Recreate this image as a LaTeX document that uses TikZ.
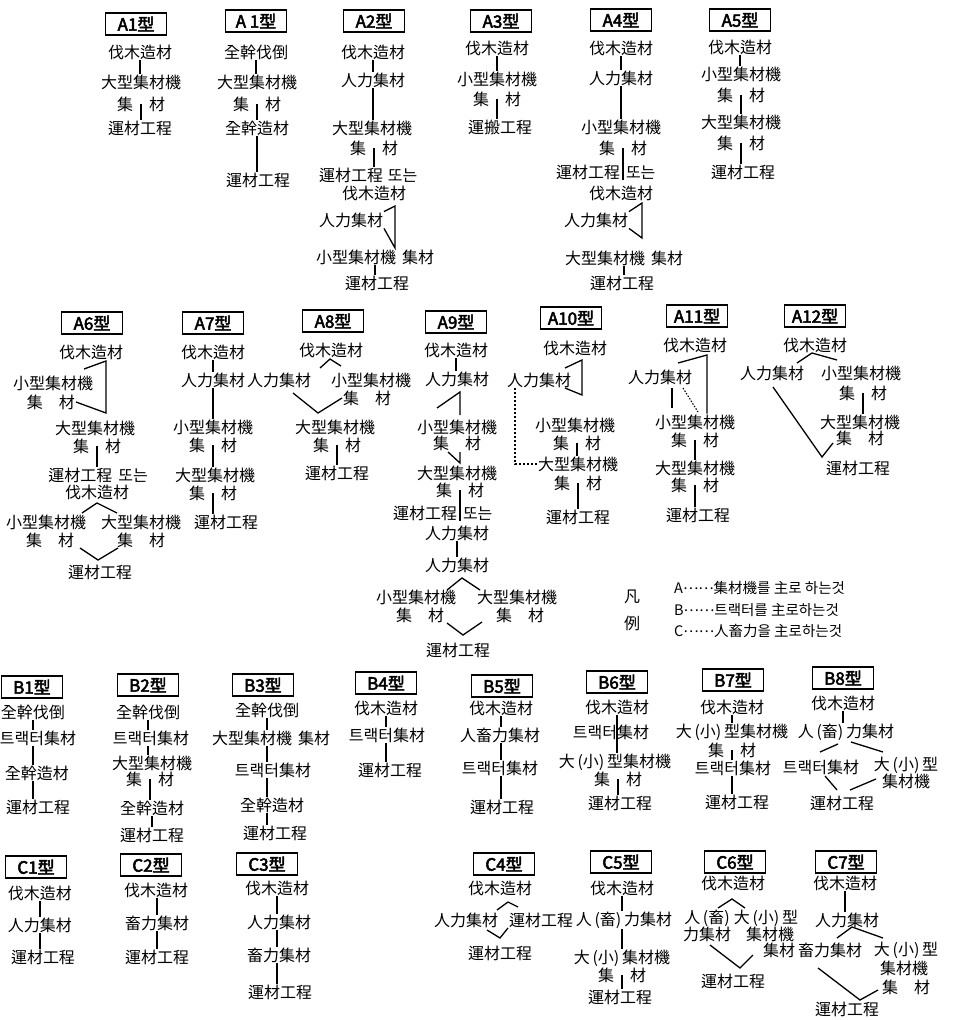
\documentclass[tikz,border=0pt]{standalone}
\usepackage{fontspec}
\newfontfamily\cjk{Noto Sans CJK KR}
\newfontfamily\cjkb[FakeBold=3]{Noto Sans CJK KR}
\tikzset{
 lbl/.style={font=\cjk\fontsize{16}{16}\selectfont, inner sep=1pt, outer sep=0pt},
 ttl/.style={draw, line width=1.2pt, font=\cjkb\fontsize{17}{17}\selectfont, minimum width=61pt, minimum height=22pt, inner sep=1pt},
 conn/.style={line width=1.3pt},
 dconn/.style={line width=1.1pt, dash pattern=on 2pt off 2pt},
 lgd/.style={font=\cjk\fontsize{14.5}{15}\selectfont, inner sep=1pt, anchor=west}
}
\newcommand\vconn[2]{\draw[conn] (#1) -- (#1 |- #2.north);}
\newcommand\lgdots{\raisebox{0.3em}{……}}
\begin{document}
\begin{tikzpicture}[x=1pt,y=-1pt]
\useasboundingbox (0,0) rectangle (977,1020);
% ---------- A1
\node[ttl] (a1t) at (136,24) {A1型};
\node[lbl] (a1a) at (140,52) {伐木造材};
\node[lbl] (a1b) at (141,82) {大型集材機};
\node[lbl] (a1c) at (141,104) {集　材};
\node[lbl] (a1d) at (140,128) {運材工程};
\vconn{a1a.south}{a1b}
\vconn{a1c.center}{a1d}
% ---------- A1'
\node[ttl] (a1xt) at (256,21) {A 1型};
\node[lbl] (a1xa) at (256,52) {全幹伐倒};
\node[lbl] (a1xb) at (257,82) {大型集材機};
\node[lbl] (a1xc) at (257,104) {集　材};
\node[lbl] (a1xd) at (257,128) {全幹造材};
\node[lbl] (a1xe) at (258,180) {運材工程};
\vconn{a1xa.south}{a1xb}
\vconn{a1xc.center}{a1xd}
\vconn{a1xd.south}{a1xe}
% ---------- A2
\node[ttl] (a2t) at (374,21) {A2型};
\node[lbl] (a2a) at (373,52) {伐木造材};
\node[lbl] (a2b) at (373,80) {人力集材};
\node[lbl] (a2c) at (372,128) {大型集材機};
\node[lbl] (a2d) at (374,148) {集　材};
\node[lbl,anchor=west] (a2e) at (318,175) {運材工程\hspace{5pt}또는};
\node[lbl] (a2f) at (374,193) {伐木造材};
\node[lbl] (a2g) at (351,220) {人力集材};
\node[lbl] (a2h) at (375,257) {小型集材機\hspace{6pt}集材};
\node[lbl] (a2i) at (377,283) {運材工程};
\coordinate (a2v1) at (395,206);
\coordinate (a2v2) at (395,248);
\vconn{a2a.south}{a2b}
\vconn{a2b.south}{a2c}
\vconn{a2d.center}{a2e}
\draw[conn] (a2g.north east) -- (a2v1) -- (a2v2) -- (a2g.south east);
\vconn{a2h.south}{a2i}
% ---------- A3
\node[ttl] (a3t) at (501,21) {A3型};
\node[lbl] (a3a) at (497,48) {伐木造材};
\node[lbl] (a3b) at (497,79) {小型集材機};
\node[lbl] (a3c) at (497,99) {集　材};
\node[lbl] (a3d) at (500,127) {運搬工程};
\vconn{a3a.south}{a3b}
\vconn{a3c.center}{a3d}
% ---------- A4
\node[ttl] (a4t) at (621,20) {A4型};
\node[lbl] (a4a) at (621,48) {伐木造材};
\node[lbl] (a4b) at (621,78) {人力集材};
\node[lbl] (a4c) at (621,127) {小型集材機};
\node[lbl] (a4d) at (623,148) {集　材};
\node[lbl,anchor=west] (a4e) at (555,172) {運材工程\hspace{6pt}또는};
\node[lbl] (a4f) at (621,193) {伐木造材};
\node[lbl] (a4g) at (596,220) {人力集材};
\node[lbl] (a4h) at (624,258) {大型集材機\hspace{6pt}集材};
\node[lbl] (a4i) at (622,283) {運材工程};
\coordinate (a4v1) at (642,203);
\coordinate (a4v2) at (642,238);
\vconn{a4a.south}{a4b}
\vconn{a4b.south}{a4c}
\draw[conn] (a4d.center) -- (a4d.center |- a4e.south);
\draw[conn] (a4g.north east) -- (a4v1) -- (a4v2) -- (a4g.south east);
\vconn{a4h.south}{a4i}
% ---------- A5
\node[ttl] (a5t) at (740,20) {A5型};
\node[lbl] (a5a) at (740,47) {伐木造材};
\node[lbl] (a5b) at (741,74) {小型集材機};
\node[lbl] (a5c) at (741,95) {集　材};
\node[lbl] (a5d) at (741,122) {大型集材機};
\node[lbl] (a5e) at (741,143) {集　材};
\node[lbl] (a5f) at (743,172) {運材工程};
\vconn{a5a.south}{a5b}
\vconn{a5c.center}{a5d}
\vconn{a5e.center}{a5f}
% ---------- A6
\node[ttl] (a6t) at (92,323) {A6型};
\node[lbl] (a6a) at (91,352) {伐木造材};
\node[lbl] (a6b) at (53,383) {小型集材機};
\node[lbl] (a6c) at (51,402) {集　材};
\node[lbl] (a6d) at (95,428) {大型集材機};
\node[lbl] (a6e) at (97,446) {集　材};
\node[lbl] (a6f) at (98,475) {運材工程\hspace{6pt}또는};
\node[lbl] (a6g) at (97,492) {伐木造材};
\node[lbl] (a6h) at (46,522) {小型集材機};
\node[lbl] (a6i) at (141,522) {大型集材機};
\node[lbl] (a6j) at (50,540) {集　材};
\node[lbl] (a6k) at (141,540) {集　材};
\node[lbl] (a6l) at (100,572) {運材工程};
\coordinate (a6p1) at (84,369);
\coordinate (a6v1) at (106,361);
\coordinate (a6v2) at (106,413);
\coordinate (a6p3) at (82,513);
\coordinate (a6v3) at (97,503);
\coordinate (a6p4) at (117,513);
\coordinate (a6p5) at (80,548);
\coordinate (a6v4) at (98,560);
\coordinate (a6p6) at (118,548);
\draw[conn] (a6p1) -- (a6v1) -- (a6v2) -- (a6c.east);
\vconn{a6e.center}{a6f}
\draw[conn] (a6p3) -- (a6v3) -- (a6p4);
\draw[conn] (a6p5) -- (a6v4) -- (a6p6);
% ---------- A7
\node[ttl] (a7t) at (213,323) {A7型};
\node[lbl] (a7a) at (213,352) {伐木造材};
\node[lbl] (a7b) at (213,380) {人力集材};
\node[lbl] (a7c) at (213,427) {小型集材機};
\node[lbl] (a7d) at (213,445) {集　材};
\node[lbl] (a7e) at (215,475) {大型集材機};
\node[lbl] (a7f) at (213,493) {集　材};
\node[lbl] (a7g) at (226,522) {運材工程};
\vconn{a7a.south}{a7b}
\vconn{a7b.south}{a7c}
\vconn{a7d.center}{a7e}
\vconn{a7f.center}{a7g}
% ---------- A8
\node[ttl] (a8t) at (333,321) {A8型};
\node[lbl] (a8a) at (331,350) {伐木造材};
\node[lbl] (a8b) at (279,380) {人力集材};
\node[lbl] (a8c) at (371,380) {小型集材機};
\node[lbl] (a8d) at (367,398) {集　材};
\node[lbl] (a8e) at (335,427) {大型集材機};
\node[lbl] (a8f) at (337,445) {集　材};
\node[lbl] (a8g) at (337,473) {運材工程};
\coordinate (a8p1) at (320,368);
\coordinate (a8v1) at (330,359);
\coordinate (a8p2) at (341,366);
\coordinate (a8p3) at (293,393);
\coordinate (a8v2) at (318,413);
\coordinate (a8p4) at (342,398);
\draw[conn] (a8p1) -- (a8v1) -- (a8p2);
\draw[conn] (a8p3) -- (a8v2) -- (a8p4);
\vconn{a8f.center}{a8g}
% ---------- A9
\node[ttl] (a9t) at (456,322) {A9型};
\node[lbl] (a9a) at (456,350) {伐木造材};
\node[lbl] (a9b) at (457,379) {人力集材};
\node[lbl] (a9c) at (457,427) {小型集材機};
\node[lbl] (a9d) at (457,443) {集　材};
\node[lbl] (a9e) at (457,473) {大型集材機};
\node[lbl] (a9f) at (460,490) {集　材};
\node[lbl,anchor=west] (a9g) at (392,513) {運材工程\hspace{6pt}또는};
\node[lbl] (a9h) at (457,533) {人力集材};
\node[lbl] (a9i) at (457,565) {人力集材};
\node[lbl] (a9j) at (416,597) {小型集材機};
\node[lbl] (a9k) at (517,597) {大型集材機};
\node[lbl] (a9l) at (420,615) {集　材};
\node[lbl] (a9m) at (520,615) {集　材};
\node[lbl] (a9n) at (458,650) {運材工程};
\coordinate (a9v1) at (460,392);
\coordinate (a9p1) at (437,408);
\coordinate (a9v2) at (460,415);
\coordinate (a9p2) at (448,452);
\coordinate (a9v3) at (460,463);
\coordinate (a9v4) at (460,452);
\coordinate (a9p3) at (447,590);
\coordinate (a9v5) at (462,578);
\coordinate (a9p4) at (480,590);
\coordinate (a9p5) at (447,623);
\coordinate (a9v6) at (463,635);
\coordinate (a9p6) at (482,622);
\vconn{a9a.south}{a9b}
\draw[conn] (a9p1) -- (a9v1) -- (a9v2);
\draw[conn] (a9p2) -- (a9v3) -- (a9v4);
\draw[conn] (a9f.center) -- (a9f.center |- a9g.south);
\vconn{a9h.south}{a9i}
\draw[conn] (a9p3) -- (a9v5) -- (a9p4);
\draw[conn] (a9p5) -- (a9v6) -- (a9p6);
% ---------- A10
\node[ttl] (a10t) at (571,318) {A10型};
\node[lbl] (a10a) at (575,348) {伐木造材};
\node[lbl] (a10b) at (539,380) {人力集材};
\node[lbl] (a10c) at (575,425) {小型集材機};
\node[lbl] (a10d) at (577,443) {集　材};
\node[lbl] (a10e) at (578,464) {大型集材機};
\node[lbl] (a10f) at (578,483) {集　材};
\node[lbl] (a10g) at (578,517) {運材工程};
\coordinate (a10p1) at (565,368);
\coordinate (a10v1) at (582,360);
\coordinate (a10v2) at (582,395);
\coordinate (a10p2) at (565,388);
\coordinate (a10p3) at (515,388);
\draw[conn] (a10p1) -- (a10v1) -- (a10v2) -- (a10p2);
\draw[dconn] (a10p3) |- (a10e.west);
\vconn{a10d.center}{a10e}
\vconn{a10f.center}{a10g}
% ---------- A11
\node[ttl] (a11t) at (697,316) {A11型};
\node[lbl] (a11a) at (695,345) {伐木造材};
\node[lbl] (a11b) at (660,377) {人力集材};
\node[lbl] (a11c) at (695,422) {小型集材機};
\node[lbl] (a11d) at (695,440) {集　材};
\node[lbl] (a11e) at (695,468) {大型集材機};
\node[lbl] (a11f) at (695,485) {集　材};
\node[lbl] (a11g) at (698,515) {運材工程};
\coordinate (a11p1) at (678,363);
\coordinate (a11v1) at (707,355);
\coordinate (a11p2) at (672,388);
\coordinate (a11p3) at (672,408);
\coordinate (a11p4) at (683,388);
\coordinate (a11p5) at (698,412);
\draw[conn] (a11p1) -- (a11v1) -- (a11v1 |- a11c.north);
\draw[conn] (a11p2) -- (a11p3);
\draw[dconn, dash pattern=on 1.5pt off 1.5pt] (a11p4) -- (a11p5);
\vconn{a11d.center}{a11e}
\vconn{a11f.center}{a11g}
% ---------- A12
\node[ttl] (a12t) at (815,316) {A12型};
\node[lbl] (a12a) at (815,345) {伐木造材};
\node[lbl] (a12b) at (772,373) {人力集材};
\node[lbl] (a12c) at (861,373) {小型集材機};
\node[lbl] (a12d) at (863,393) {集　材};
\node[lbl] (a12e) at (860,422) {大型集材機};
\node[lbl] (a12f) at (860,438) {集　材};
\node[lbl] (a12g) at (858,468) {運材工程};
\coordinate (a12p1) at (797,363);
\coordinate (a12v1) at (812,353);
\coordinate (a12p2) at (837,360);
\coordinate (a12p3) at (773,387);
\coordinate (a12v2) at (822,457);
\coordinate (a12p4) at (833,443);
\draw[conn] (a12p1) -- (a12v1) -- (a12p2);
\draw[conn] (a12p3) -- (a12v2) -- (a12p4);
\vconn{a12d.center}{a12e}
% ---------- legend
\node[lbl] (lg1) at (632,597) {凡};
\node[lbl] (lg2) at (632,623) {例};
\node[lgd] (lgA) at (673,588) {A\lgdots 集材機를\ 主로\ 하는것};
\node[lgd] (lgB) at (673,610) {B\lgdots 트랙터를\ 主로하는것};
\node[lgd] (lgC) at (673,631) {C\lgdots 人畜力을\ 主로하는것};
% ---------- B1
\node[ttl] (b1t) at (32,687) {B1型};
\node[lbl] (b1a) at (33,712) {全幹伐倒};
\node[lbl] (b1b) at (38,738) {트랙터集材};
\node[lbl] (b1c) at (37,773) {全幹造材};
\node[lbl] (b1d) at (38,807) {運材工程};
\vconn{b1a.south}{b1b}
\vconn{b1a.south |- b1b.south}{b1c}
\vconn{b1a.south |- b1c.south}{b1d}
% ---------- B2
\node[ttl] (b2t) at (148,685) {B2型};
\node[lbl] (b2a) at (148,712) {全幹伐倒};
\node[lbl] (b2b) at (151,738) {트랙터集材};
\node[lbl] (b2c) at (152,763) {大型集材機};
\node[lbl] (b2d) at (150,779) {集　材};
\node[lbl] (b2e) at (152,808) {全幹造材};
\node[lbl] (b2f) at (152,835) {運材工程};
\vconn{b2a.south}{b2b}
\vconn{b2a.south |- b2b.south}{b2c}
\vconn{b2d.center}{b2e}
\vconn{b2e.south}{b2f}
% ---------- B3
\node[ttl] (b3t) at (263,685) {B3型};
\node[lbl] (b3a) at (267,710) {全幹伐倒};
\node[lbl] (b3b) at (271,738) {大型集材機\hspace{6pt}集材};
\node[lbl] (b3c) at (273,770) {트랙터集材};
\node[lbl] (b3d) at (272,805) {全幹造材};
\node[lbl] (b3e) at (275,833) {運材工程};
\vconn{b3a.south}{b3b}
\vconn{b3a.south |- b3b.south}{b3c}
\vconn{b3a.south |- b3c.south}{b3d}
\vconn{b3a.south |- b3d.south}{b3e}
% ---------- B4
\node[ttl] (b4t) at (386,683) {B4型};
\node[lbl] (b4a) at (386,708) {伐木造材};
\node[lbl] (b4b) at (387,735) {트랙터集材};
\node[lbl] (b4c) at (390,770) {運材工程};
\vconn{b4a.south}{b4b}
\vconn{b4a.south |- b4b.south}{b4c}
% ---------- B5
\node[ttl] (b5t) at (502,686) {B5型};
\node[lbl] (b5a) at (501,708) {伐木造材};
\node[lbl] (b5b) at (500,735) {人畜力集材};
\node[lbl] (b5c) at (500,768) {트랙터集材};
\node[lbl] (b5d) at (502,807) {運材工程};
\vconn{b5a.south}{b5b}
\vconn{b5a.south |- b5b.south}{b5c}
\vconn{b5a.south |- b5c.south}{b5d}
% ---------- B6
\node[ttl] (b6t) at (617,682) {B6型};
\node[lbl] (b6a) at (617,707) {伐木造材};
\node[lbl] (b6b) at (611,732) {트랙터集材};
\node[lbl] (b6c) at (615,762) {大\,(小)\,型集材機};
\node[lbl] (b6d) at (618,779) {集　材};
\node[lbl] (b6e) at (620,803) {運材工程};
\vconn{b6a.south}{b6c}
\vconn{b6d.center}{b6e}
% ---------- B7
\node[ttl] (b7t) at (733,680) {B7型};
\node[lbl] (b7a) at (732,707) {伐木造材};
\node[lbl] (b7b) at (732,732) {大\,(小)\,型集材機};
\node[lbl] (b7c) at (732,750) {集　材};
\node[lbl] (b7d) at (733,768) {트랙터集材};
\node[lbl] (b7e) at (737,802) {運材工程};
\vconn{b7a.south}{b7b}
\vconn{b7c.center}{b7d}
\vconn{b7c.center |- b7d.south}{b7e}
% ---------- B8
\node[ttl] (b8t) at (843,678) {B8型};
\node[lbl] (b8a) at (843,703) {伐木造材};
\node[lbl] (b8b) at (846,732) {人\,(畜)\,力集材};
\node[lbl] (b8c) at (821,767) {트랙터集材};
\node[lbl] (b8d) at (906,765) {大\,(小)\,型};
\node[lbl] (b8e) at (906,781) {集材機};
\node[lbl] (b8f) at (842,803) {運材工程};
\coordinate (b8p1) at (820,752);
\coordinate (b8p2) at (838,744);
\coordinate (b8p3) at (851,742);
\coordinate (b8p4) at (883,752);
\coordinate (b8p5) at (825,776);
\coordinate (b8p6) at (837,790);
\coordinate (b8p7) at (850,790);
\coordinate (b8p8) at (876,779);
\vconn{b8a.south}{b8b}
\draw[conn] (b8p1) -- (b8p2);
\draw[conn] (b8p3) -- (b8p4);
\draw[conn] (b8p5) -- (b8p6);
\draw[conn] (b8p7) -- (b8p8);
% ---------- C1
\node[ttl] (c1t) at (36,867) {C1型};
\node[lbl] (c1a) at (40,893) {伐木造材};
\node[lbl] (c1b) at (40,925) {人力集材};
\node[lbl] (c1c) at (43,957) {運材工程};
\vconn{c1a.south}{c1b}
\vconn{c1b.south}{c1c}
% ---------- C2
\node[ttl] (c2t) at (151,865) {C2型};
\node[lbl] (c2a) at (156,890) {伐木造材};
\node[lbl] (c2b) at (157,923) {畜力集材};
\node[lbl] (c2c) at (157,957) {運材工程};
\vconn{c2b.north |- c2a.south}{c2b}
\vconn{c2b.south}{c2c}
% ---------- C3
\node[ttl] (c3t) at (267,864) {C3型};
\node[lbl] (c3a) at (277,888) {伐木造材};
\node[lbl] (c3b) at (279,922) {人力集材};
\node[lbl] (c3c) at (279,955) {畜力集材};
\node[lbl] (c3d) at (280,992) {運材工程};
\vconn{c3a.south}{c3b}
\vconn{c3a.south |- c3b.south}{c3c}
\vconn{c3a.south |- c3c.south}{c3d}
% ---------- C4
\node[ttl] (c4t) at (504,864) {C4型};
\node[lbl] (c4a) at (500,888) {伐木造材};
\node[lbl] (c4b) at (466,920) {人力集材};
\node[lbl] (c4c) at (541,920) {運材工程};
\node[lbl] (c4d) at (500,953) {運材工程};
\coordinate (c4p1) at (497,910);
\coordinate (c4v1) at (508,902);
\coordinate (c4p2) at (518,907);
\coordinate (c4p3) at (487,930);
\coordinate (c4v2) at (500,938);
\coordinate (c4p4) at (508,928);
\draw[conn] (c4p1) -- (c4v1) -- (c4p2);
\draw[conn] (c4p3) -- (c4v2) -- (c4p4);
% ---------- C5
\node[ttl] (c5t) at (621,862) {C5型};
\node[lbl] (c5a) at (622,888) {伐木造材};
\node[lbl] (c5b) at (624,920) {人\,(畜)\,力集材};
\node[lbl] (c5c) at (622,958) {大\,(小)\,集材機};
\node[lbl] (c5d) at (622,975) {集　材};
\node[lbl] (c5e) at (620,997) {運材工程};
\vconn{c5a.south}{c5b}
\vconn{c5a.south |- c5b.south}{c5c}
\vconn{c5d.center}{c5e}
% ---------- C6
\node[ttl] (c6t) at (735,862) {C6型};
\node[lbl] (c6a) at (733,883) {伐木造材};
\node[lbl] (c6b) at (707,918) {人\,(畜)};
\node[lbl] (c6c) at (707,934) {力集材};
\node[lbl] (c6d) at (766,918) {大\,(小)\,型};
\node[lbl] (c6e) at (770,934) {集材機};
\node[lbl] (c6f) at (779,950) {集材};
\node[lbl] (c6g) at (733,981) {運材工程};
\coordinate (c6p1) at (718,908);
\coordinate (c6v1) at (732,899);
\coordinate (c6p2) at (745,908);
\coordinate (c6p3) at (710,945);
\coordinate (c6v2) at (740,968);
\coordinate (c6p4) at (753,955);
\draw[conn] (c6p1) -- (c6v1) -- (c6p2);
\draw[conn] (c6p3) -- (c6v2) -- (c6p4);
% ---------- C7
\node[ttl] (c7t) at (846,862) {C7型};
\node[lbl] (c7a) at (845,883) {伐木造材};
\node[lbl] (c7b) at (847,920) {人力集材};
\node[lbl] (c7c) at (830,950) {畜力集材};
\node[lbl] (c7d) at (906,950) {大\,(小)\,型};
\node[lbl] (c7e) at (904,968) {集材機};
\node[lbl] (c7f) at (906,987) {集　材};
\node[lbl] (c7g) at (847,1009) {運材工程};
\coordinate (c7p1) at (837,938);
\coordinate (c7v1) at (852,927);
\coordinate (c7p2) at (883,938);
\coordinate (c7p3) at (818,968);
\coordinate (c7v2) at (860,1000);
\coordinate (c7p4) at (878,990);
\vconn{c7a.south}{c7b}
\draw[conn] (c7p1) -- (c7v1) -- (c7p2);
\draw[conn] (c7p3) -- (c7v2) -- (c7p4);
\end{tikzpicture}
\end{document}
